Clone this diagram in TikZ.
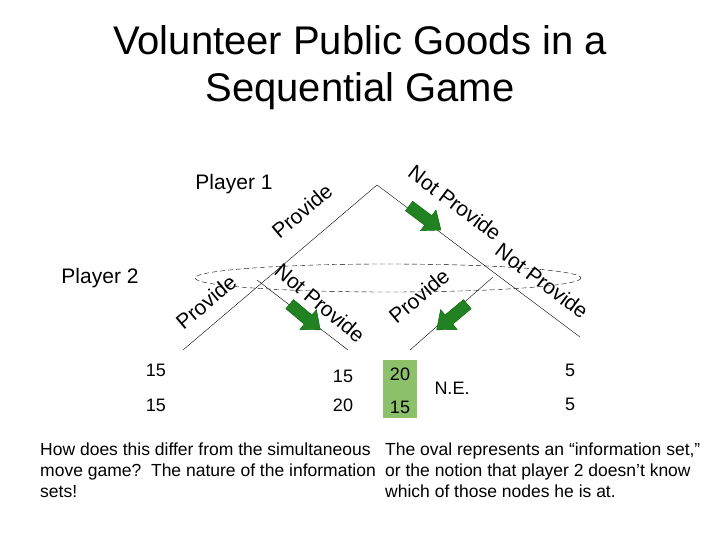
\documentclass[tikz,border=0pt]{standalone}
\usepackage{fontspec}
\setmainfont{Liberation Sans}
\definecolor{gfill}{RGB}{34,130,34}
\definecolor{gbox}{RGB}{140,192,105}
\begin{document}
\begin{tikzpicture}[x=1pt,y=-1pt,
  lab/.style={font=\fontsize{21}{21}\selectfont,inner sep=0pt},
  num/.style={font=\fontsize{18}{18}\selectfont,inner sep=0pt},
  blk/.style={font=\fontsize{17.5}{21}\selectfont,inner sep=0pt,align=left,anchor=north west},
  garrow/.style={fill=gfill,draw=black!60!green,line width=0.4pt}]
\useasboundingbox (0,0) rectangle (720,540);
\node[font=\fontsize{40}{47}\selectfont,align=center] (title) at (360,68) {Volunteer Public Goods in a\\Sequential Game};
\coordinate (r) at (377,185);
\coordinate (a) at (257,280);
\coordinate (b) at (493,277);
\coordinate (ll) at (183,350);
\coordinate (lr) at (348,350);
\coordinate (rl) at (410,350);
\coordinate (rr) at (580,337);
\draw (r) -- (ll); \draw (r) -- (rr); \draw (a) -- (lr); \draw (b) -- (rl);
\draw[dash pattern=on 5pt off 3pt] (388,278) ellipse (193 and 14);
\newcommand\garr[2]{\begin{scope}[shift={#1},rotate=#2]
 \filldraw[garrow] (-20,-6) -- (4,-6) -- (4,-13) -- (20,0) -- (4,13) -- (4,6) -- (-20,6) -- cycle;
 \end{scope}}
\garr{(425,218)}{-37}
\garr{(305,317)}{-40}
\garr{(452,317)}{-140}
\node[lab] (p1) at (234,184) {Player 1};
\node[lab] (p2) at (100,278) {Player 2};
\node[lab,rotate=40] (t1) at (302,211) {Provide};
\node[lab,rotate=-37] (t2) at (455,203) {Not Provide};
\node[lab,rotate=40] (t3) at (206,302) {Provide};
\node[lab,rotate=-40] (t4) at (320,303) {Not Provide};
\node[lab,rotate=40] (t5) at (419,296) {Provide};
\node[lab,rotate=-37] (t6) at (542,281) {Not Provide};
\fill[gbox] (383,360) rectangle (417,418);
\node[num] (a1) at (156,370) {15};
\node[num] (a2) at (156,405) {15};
\node[num] (b1) at (343,376) {15};
\node[num] (b2) at (343,405) {20};
\node[num] (c1) at (400,374) {20};
\node[num] (c2) at (400,407) {15};
\node[num] (d1) at (570,370) {5};
\node[num] (d2) at (570,404) {5};
\node[num] (ne) at (452,388) {N.E.};
\node[blk] (q) at (40,443) {How does this differ from the simultaneous\\move game?\ \ The nature of the information\\sets!};
\node[blk] (o) at (385,443) {The oval represents an “information set,”\\or the notion that player 2 doesn’t know\\which of those nodes he is at.};
\end{tikzpicture}
\end{document}
